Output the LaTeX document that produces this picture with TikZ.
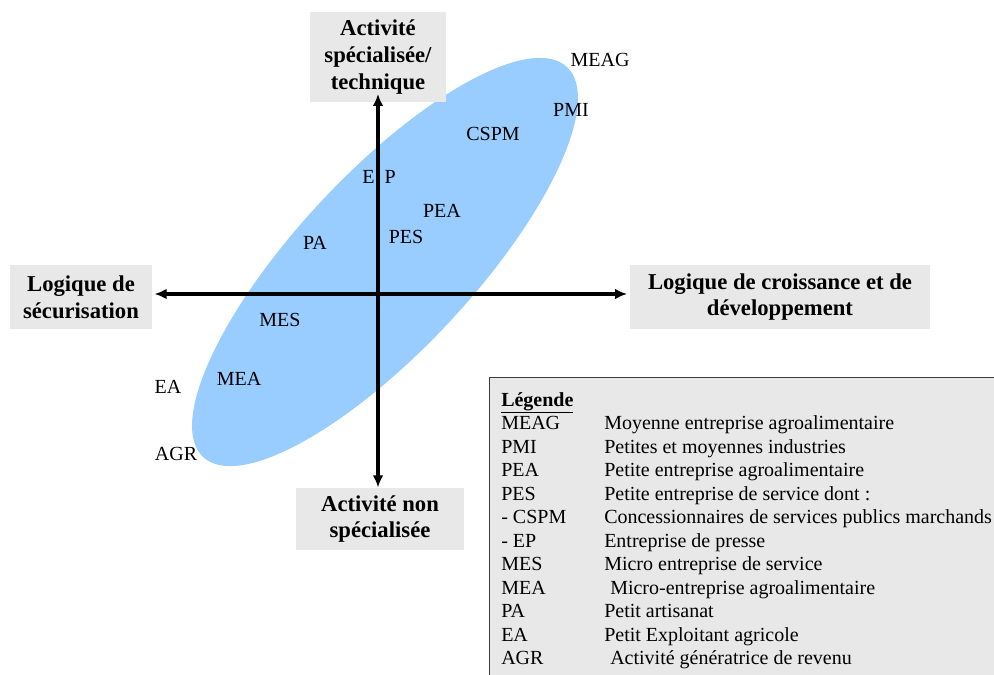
\documentclass[tikz,border=0pt]{standalone}
\usepackage{fontspec}
\setmainfont{Liberation Serif}
\usepackage{tikz}
\usetikzlibrary{arrows.meta,positioning,shapes.geometric}
\definecolor{bleuell}{RGB}{153,204,255}
\definecolor{grisbox}{RGB}{232,232,232}
\definecolor{grisbord}{RGB}{60,60,60}

\begin{document}
\begin{tikzpicture}[
  x=0.75pt,y=-0.75pt,
  >={Latex[length=9pt,width=8pt]},
  axe/.style={->,line width=2.4pt,black},
  pole/.style={rectangle,fill=grisbox,align=center,inner sep=2pt,
               font=\fontsize{17}{20}\selectfont\bfseries},
  sigle/.style={font=\fontsize{15}{18}\selectfont,inner sep=0pt},
  leg/.style={anchor=base west,font=\fontsize{15}{18}\selectfont,inner sep=0pt}
]
\useasboundingbox (0,0) rectangle (994,674);
%% Ellipse
\node[ellipse,fill=bleuell,rotate=47,minimum width=400pt,minimum height=132pt] (nuage) at (385,262) {};
%% Pôles
\coordinate (O) at (378,294);
\node[pole,minimum width=102pt,minimum height=67pt] (haut)   at (378,57)  {Activité\\spécialisée/\\technique};
\node[pole,minimum width=126pt,minimum height=47pt] (bas)    at (380,519) {Activité non\\spécialisée};
\node[pole,minimum width=106pt,minimum height=48pt] (gauche) at (81,297)  {Logique de\\sécurisation};
\node[pole,minimum width=225pt,minimum height=48pt] (droite) at (780,297) {Logique de croissance et de\\développement};
%% Axes
\draw[axe] (O) -- ([yshift=6pt]O|-haut.south);
\draw[axe] (O) -- (O|-bas.north);
\draw[axe] (O) -- ([xshift=2pt]gauche.east|-O);
\draw[axe] (O) -- ([xshift=-2pt]droite.west|-O);
%% Sigles
\node[sigle] (meag) at (600,60)  {MEAG};
\node[sigle] (pmi)  at (571,110) {PMI};
\node[sigle] (cspm) at (493,134) {CSPM};
\node[sigle] (ep)   at (379,177) {E\hspace{0.5em}P};
\node[sigle] (pea)  at (442,211) {PEA};
\node[sigle] (pes)  at (406,237) {PES};
\node[sigle] (pa)   at (315,243) {PA};
\node[sigle] (mes)  at (280,320) {MES};
\node[sigle] (mea)  at (239,379) {MEA};
\node[sigle] (ea)   at (168,387) {EA};
\node[sigle] (agr)  at (176,454) {AGR};
%% Légende
\node[draw=grisbord,fill=grisbox,line width=1pt,minimum width=380pt,minimum height=225pt,anchor=north west] (cadre) at (489,377) {};
\node[leg] (titre) at (501,406) {\bfseries\underline{Légende}};
\foreach \s/\t [count=\i] in {MEAG/Moyenne entreprise agroalimentaire,
  PMI/Petites et moyennes industries,
  PEA/Petite entreprise agroalimentaire,
  PES/Petite entreprise de service dont :,
  - CSPM/Concessionnaires de services publics marchands,
  - EP/Entreprise de presse,
  MES/Micro entreprise de service,
  MEA/\hspace{0.3em}Micro-entreprise agroalimentaire,
  PA/Petit artisanat,
  EA/Petit Exploitant agricole,
  AGR/\hspace{0.3em}Activité génératrice de revenu}
{
  \node[leg] (s\i) at (501,{406+23.5*\i}) {\s};
  \node[leg] (t\i) at (604,{406+23.5*\i}) {\t};
}
\end{tikzpicture}
\end{document}
